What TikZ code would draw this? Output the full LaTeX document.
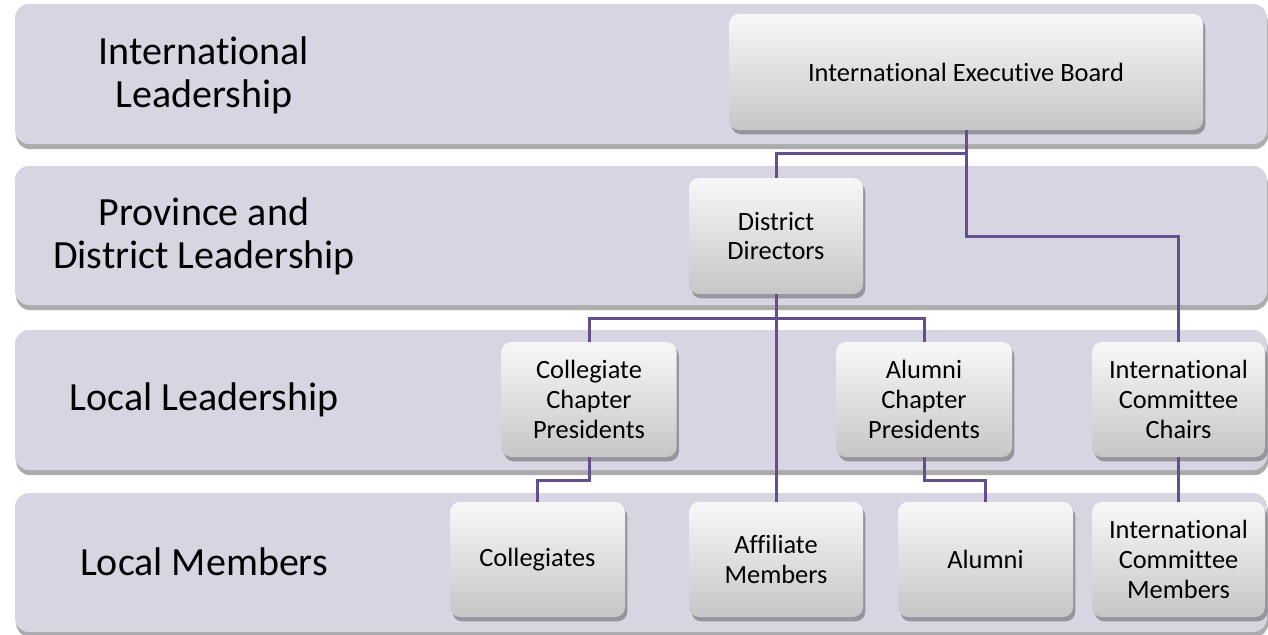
\documentclass[tikz,border=0pt]{standalone}
\usepackage{fontspec}
\setmainfont[Ligatures=NoCommon]{Carlito}
\usetikzlibrary{shadows}
\definecolor{bandfill}{HTML}{D8D5E2}
\definecolor{linec}{HTML}{634F8E}
\definecolor{boxtop}{HTML}{F8F8F8}
\definecolor{boxmid}{HTML}{EBEBEB}
\definecolor{boxbot}{HTML}{C6C6C6}
\begin{document}
\begin{tikzpicture}[x=0.5pt,y=-0.5pt,
  band/.style={fill=bandfill, rounded corners=7pt,
    drop shadow={shadow xshift=0.6pt, shadow yshift=-2.6pt, fill=black, opacity=0.33}},
  bandlabel/.style={align=center, font=\fontsize{20}{21.5}\selectfont, inner sep=0pt},
  orgbox/.style={rounded corners=5pt, inner sep=0pt, align=center,
    font=\fontsize{13.2}{14.8}\selectfont,
    top color=boxtop, middle color=boxmid, bottom color=boxbot,
    minimum height=58pt,
    drop shadow={shadow xshift=1.2pt, shadow yshift=-2.2pt, fill=black, opacity=0.3}},
  conn/.style={draw=linec, line width=1.5pt}]
\useasboundingbox (0,0) rectangle (1268,634);
\fill[white] (0,0) rectangle (1268,634);
% bands
\path[band] (15,4) rectangle (1267,144);
\path[band] (15,166) rectangle (1267,305);
\path[band] (15,330) rectangle (1267,470);
\path[band] (15,493) rectangle (1267,632);
% band labels
\node[bandlabel] (l1) at (204,75) {International\\Leadership};
\node[bandlabel] (l2) at (204,236) {Province and\\District Leadership};
\node[bandlabel] (l3) at (204,400) {Local Leadership};
\node[bandlabel] (l4) at (204,562) {Local Members};
% boxes
\node[orgbox, minimum width=237pt] (ieb) at (966,72) {International Executive Board};
\node[orgbox, minimum width=87pt] (dd) at (776,236) {District\\Directors};
\node[orgbox, minimum width=87.5pt, minimum height=57.5pt] (ccp) at (589,399.5) {Collegiate\\Chapter\\Presidents};
\node[orgbox, minimum width=88pt, minimum height=57.5pt] (acp) at (924,399.5) {Alumni\\Chapter\\Presidents};
\node[orgbox, minimum width=86.5pt, minimum height=57.5pt] (icc) at (1178.5,399.5) {International\\Committee\\Chairs};
\node[orgbox, minimum width=87.5pt, minimum height=57.5pt] (coll) at (537.5,559.5) {Collegiates};
\node[orgbox, minimum width=87pt, minimum height=57.5pt] (aff) at (776,559.5) {Affiliate\\Members};
\node[orgbox, minimum width=87.5pt, minimum height=57.5pt] (alum) at (985.5,559.5) {Alumni};
\node[orgbox, minimum width=86.5pt, minimum height=57.5pt] (icm) at (1178.5,559.5) {International\\Committee\\Members};
% junctions
\coordinate (j1) at (966,153);
\coordinate (j2) at (966,236);
\coordinate (j3) at (776,318);
% connectors
\draw[conn] (ieb.south) -- (j1) -| (dd.north);
\draw[conn] (j1) -- (j2) -| (icc.north);
\draw[conn] (dd.south) -- (aff.north);
\draw[conn] (ccp.north) |- (j3) -| (acp.north);
\draw[conn] (ccp.south) -- ++(0,23) -| (coll.north);
\draw[conn] (acp.south) -- ++(0,23) -| (alum.north);
\draw[conn] (icc.south) -- (icm.north);
\end{tikzpicture}
\end{document}
